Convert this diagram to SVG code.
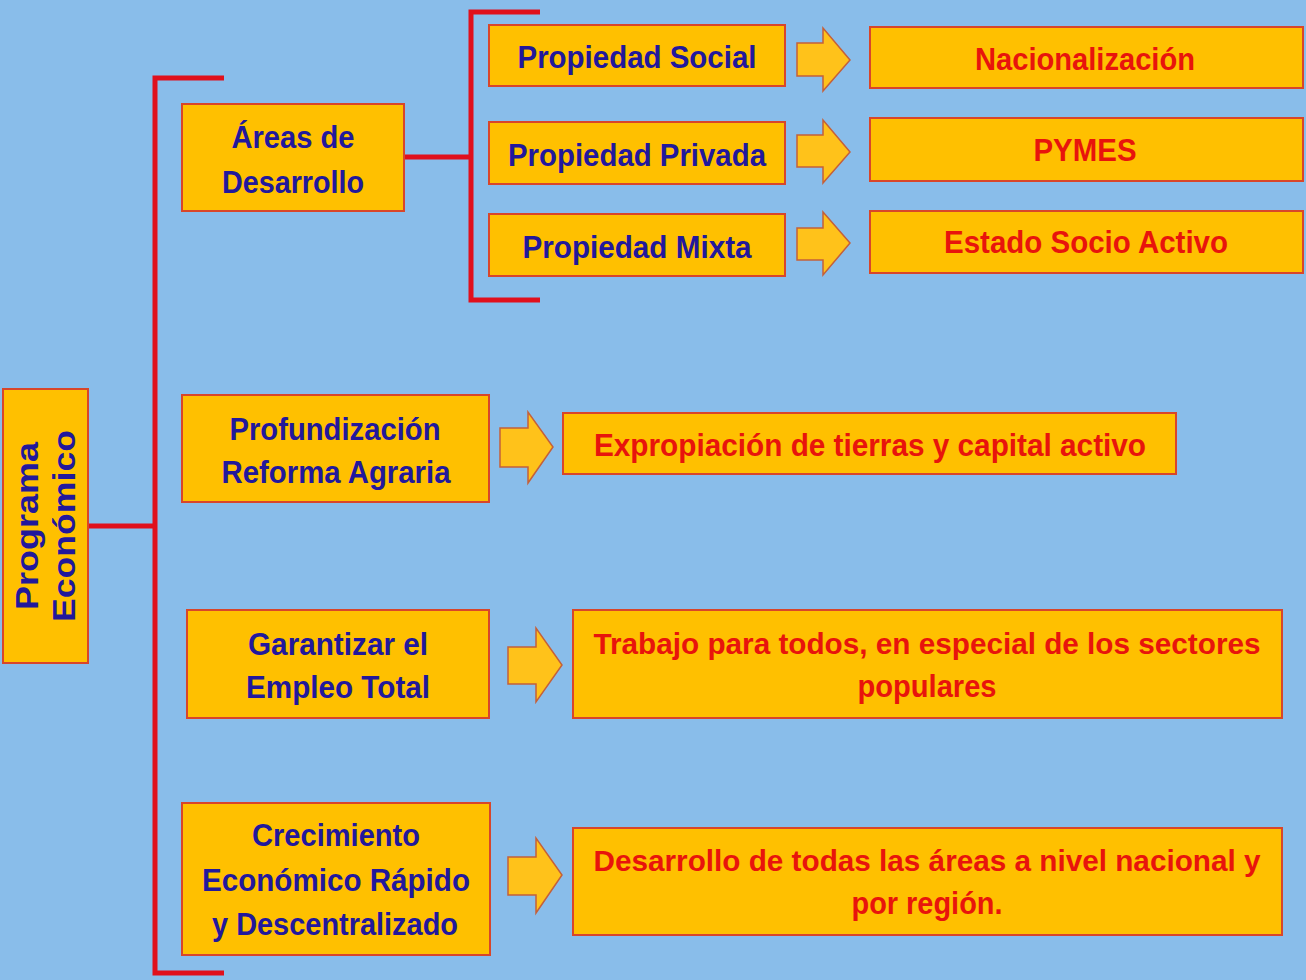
<svg xmlns="http://www.w3.org/2000/svg" width="1306" height="980" viewBox="0 0 1306 980">
<defs>
<style>
.box{fill:#FFC000;stroke:#D8462A;stroke-width:2}
.arr{fill:#FFC21A;stroke:#C4603A;stroke-width:1.5;stroke-linejoin:miter}
.ln{fill:none;stroke:#E0101C;stroke-width:5;stroke-linecap:butt;stroke-linejoin:miter}
text{font-family:"Liberation Sans",Arial,sans-serif;font-weight:bold;font-size:32px;text-anchor:middle}
.b{fill:#22189C}
.r{fill:#E8140C}
.long{font-size:29px}
</style>
</defs>
<rect width="1306" height="980" fill="#89BDEA"/>
<g id="connectors">
<polyline class="ln" points="224,78 155,78 155,973 224,973"/>
<line class="ln" x1="88" y1="526" x2="155" y2="526"/>
<polyline class="ln" points="540,12 471,12 471,300 540,300"/>
<line class="ln" x1="404" y1="157" x2="471" y2="157"/>
<polygon class="arr" points="797,43 823,43 823,28 850,60 823,91 823,76 797,76"/>
<polygon class="arr" points="797,135 823,135 823,120 850,152 823,183 823,167 797,167"/>
<polygon class="arr" points="797,228 823,228 823,212 850,243 823,275 823,260 797,260"/>
<polygon class="arr" points="500,428 528,428 528,412 553,447 528,483 528,467 500,467"/>
<polygon class="arr" points="508,647 536,647 536,628 562,665 536,702 536,684 508,684"/>
<polygon class="arr" points="508,857 536,857 536,838 562,875 536,913 536,895 508,895"/>
</g>
<g id="programa">
<rect class="box" x="3" y="389" width="85" height="274"/>
<text class="b" transform="translate(38,526) rotate(-90)" font-size="29" textLength="168" lengthAdjust="spacingAndGlyphs">Programa</text>
<text class="b" transform="translate(75,526) rotate(-90)" font-size="29" textLength="192" lengthAdjust="spacingAndGlyphs">Económico</text>
</g>
<g id="areas">
<rect class="box" x="182" y="104" width="222" height="107"/>
<text class="b" x="293" y="148" textLength="123" lengthAdjust="spacingAndGlyphs">Áreas de</text>
<text class="b" x="293" y="193" textLength="142" lengthAdjust="spacingAndGlyphs">Desarrollo</text>
</g>
<g id="prop-social">
<rect class="box" x="489" y="25" width="296" height="61"/>
<text class="b" x="637" y="68" textLength="239" lengthAdjust="spacingAndGlyphs">Propiedad Social</text>
</g>
<g id="prop-privada">
<rect class="box" x="489" y="122" width="296" height="62"/>
<text class="b" x="637" y="166" textLength="258" lengthAdjust="spacingAndGlyphs">Propiedad Privada</text>
</g>
<g id="prop-mixta">
<rect class="box" x="489" y="214" width="296" height="62"/>
<text class="b" x="637" y="258" textLength="229" lengthAdjust="spacingAndGlyphs">Propiedad Mixta</text>
</g>
<g id="nacionalizacion">
<rect class="box" x="870" y="27" width="433" height="61"/>
<text class="r" x="1085" y="70" textLength="220" lengthAdjust="spacingAndGlyphs">Nacionalización</text>
</g>
<g id="pymes">
<rect class="box" x="870" y="118" width="433" height="63"/>
<text class="r" x="1085" y="161" textLength="103" lengthAdjust="spacingAndGlyphs">PYMES</text>
</g>
<g id="estado">
<rect class="box" x="870" y="211" width="433" height="62"/>
<text class="r" x="1086" y="253" textLength="284" lengthAdjust="spacingAndGlyphs">Estado Socio Activo</text>
</g>
<g id="profundizacion">
<rect class="box" x="182" y="395" width="307" height="107"/>
<text class="b" x="335" y="440" textLength="211" lengthAdjust="spacingAndGlyphs">Profundización</text>
<text class="b" x="336" y="483" textLength="229" lengthAdjust="spacingAndGlyphs">Reforma Agraria</text>
</g>
<g id="expropiacion">
<rect class="box" x="563" y="413" width="613" height="61"/>
<text class="r" x="870" y="456" textLength="552" lengthAdjust="spacingAndGlyphs">Expropiación de tierras y capital activo</text>
</g>
<g id="garantizar">
<rect class="box" x="187" y="610" width="302" height="108"/>
<text class="b" x="338" y="655" textLength="180" lengthAdjust="spacingAndGlyphs">Garantizar el</text>
<text class="b" x="338" y="698" textLength="184" lengthAdjust="spacingAndGlyphs">Empleo Total</text>
</g>
<g id="trabajo">
<rect class="box" x="573" y="610" width="709" height="108"/>
<text class="r long" x="927" y="654" textLength="667" lengthAdjust="spacingAndGlyphs">Trabajo para todos, en especial de los sectores</text>
<text class="r" x="927" y="697" textLength="139" lengthAdjust="spacingAndGlyphs">populares</text>
</g>
<g id="crecimiento">
<rect class="box" x="182" y="803" width="308" height="152"/>
<text class="b" x="336" y="846" textLength="168" lengthAdjust="spacingAndGlyphs">Crecimiento</text>
<text class="b" x="336" y="891" textLength="268" lengthAdjust="spacingAndGlyphs">Económico Rápido</text>
<text class="b" x="335" y="935" textLength="246" lengthAdjust="spacingAndGlyphs">y Descentralizado</text>
</g>
<g id="desarrollo-regional">
<rect class="box" x="573" y="828" width="709" height="107"/>
<text class="r long" x="927" y="871" textLength="667" lengthAdjust="spacingAndGlyphs">Desarrollo de todas las áreas a nivel nacional y</text>
<text class="r" x="927" y="914" textLength="151" lengthAdjust="spacingAndGlyphs">por región.</text>
</g>
</svg>
